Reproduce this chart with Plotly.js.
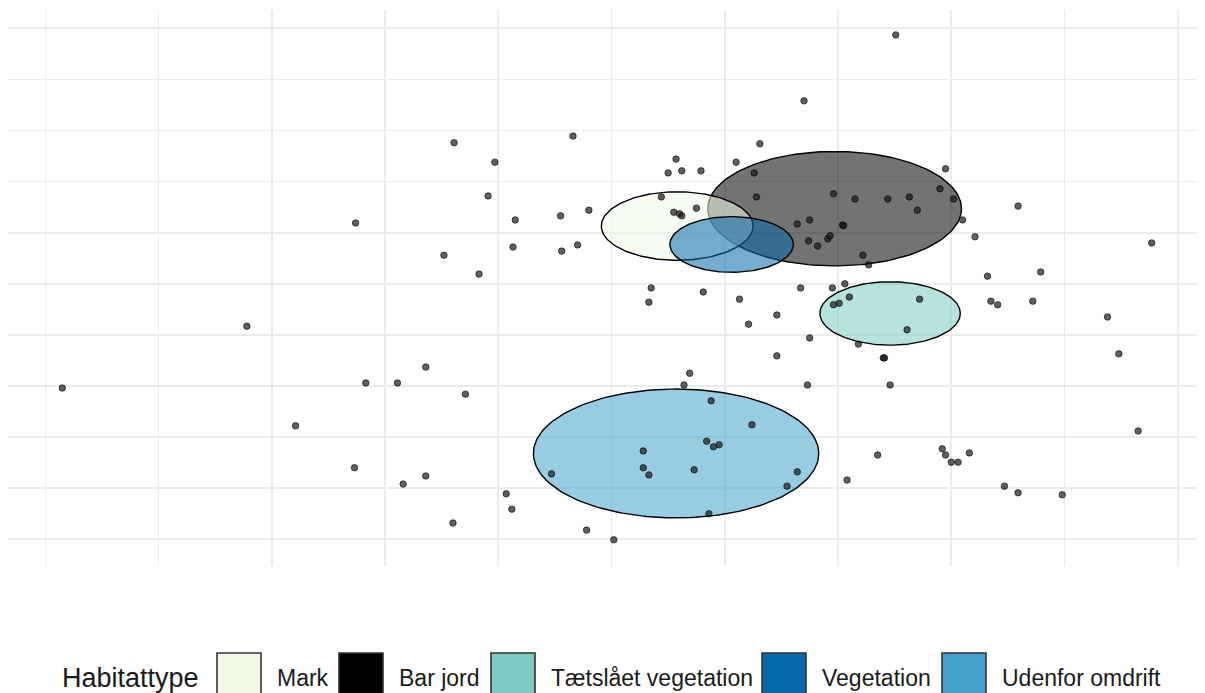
<!DOCTYPE html>
<html>
<head>
<meta charset="utf-8">
<script src="https://cdn.plot.ly/plotly-3.0.1.min.js"></script>
<style>
  html, body { margin: 0; padding: 0; background: #ffffff; }
  #chart { width: 1205px; height: 693px; }
</style>
</head>
<body>
<div id="chart"></div>
<script>
// Habitat groups: name, colour and the centre/radius of each group's ellipse
const habitats = ['Mark', 'Bar jord', 'Tætslået vegetation', 'Vegetation', 'Udenfor omdrift'];
const habitatColors = ['#F0F9E8', '#000000', '#7BCCC4', '#0868AC', '#43A2CA'];
const centerX = [5.58, 6.97, 7.46, 6.06, 5.57];
const centerY = [6.13, 6.47, 4.42, 5.77, 1.68];
const radius = [0.67, 1.12, 0.62, 0.545, 1.26];

// Sites (ordination scores)
const siteX = [
  7.51, 6.70, 4.66, 3.61, 6.31, 3.97, 5.57, 5.50, 5.62, 5.79,
  6.10, 6.26, 7.95, 3.91, 5.44, 6.28, 6.96, 7.15, 7.44, 7.63,
  7.90, 8.02, 2.74, 4.15, 4.55, 4.80, 5.55, 5.60, 5.62, 5.75,
  8.59, 7.70, 8.10, 8.21, 6.64, 6.75, 7.04, 7.05, 6.74, 6.82,
  6.91, 6.93, 9.77, 4.13, 4.56, 4.70, 3.52, 7.22, 7.27, 3.83,
  8.32, 8.79, 5.35, 5.81, 5.33, 6.67, 6.95, 7.06, 6.13, 7.10,
  6.96, 7.01, 7.72, 8.35, 8.41, 8.72, 9.38, 1.78, 6.46, 6.21,
  6.75, 7.61, 7.18, 6.46, 7.40, 7.41, 9.48, 0.15, 3.36, 2.83,
  3.11, 3.71, 5.69, 5.64, 6.73, 7.46, 5.88, 6.24, 2.21, 5.84,
  5.90, 5.95, 5.28, 5.28, 5.33, 5.73, 7.35, 7.92, 7.95, 8.00,
  8.06, 8.16, 6.64, 7.08, 6.55, 2.73, 3.36, 3.16, 4.47, 9.65,
  8.47, 8.59, 8.98, 4.07, 4.12, 3.60, 4.78, 5.02, 5.86
];
const siteY = [
  9.87, 8.58, 7.89, 7.76, 7.74, 7.38, 7.44, 7.17, 7.21, 7.21,
  7.38, 7.17, 7.25, 6.72, 6.70, 6.70, 6.76, 6.66, 6.66, 6.70,
  6.86, 6.66, 6.19, 6.25, 6.33, 6.44, 6.40, 6.37, 6.33, 6.48,
  6.52, 6.44, 6.25, 5.92, 6.17, 6.25, 6.15, 6.14, 5.84, 5.74,
  5.88, 5.94, 5.80, 5.72, 5.64, 5.76, 5.56, 5.56, 5.37, 5.19,
  5.15, 5.23, 4.92, 4.84, 4.64, 4.92, 4.92, 5.00, 4.70, 4.74,
  4.59, 4.62, 4.70, 4.66, 4.59, 4.66, 4.35, 4.17, 4.39, 4.21,
  3.94, 4.10, 3.82, 3.59, 3.55, 3.55, 3.63, 2.96, 3.37, 3.06,
  3.06, 2.84, 3.25, 3.02, 3.02, 3.02, 2.71, 2.24, 2.22, 1.92,
  1.81, 1.85, 1.73, 1.40, 1.26, 1.36, 1.65, 1.77, 1.65, 1.51,
  1.51, 1.69, 1.32, 1.16, 1.04, 1.40, 1.24, 1.08, 1.28, 2.12,
  1.04, 0.91, 0.87, 0.89, 0.59, 0.32, 0.18, -0.01, 0.50
];

// Ellipses are layered so that Mark sits over Bar jord and Vegetation on top
const drawOrder = [1, 0, 2, 4, 3];
const fillAlpha = 0.55;

function hexToRgba(hex, a) {
  const n = parseInt(hex.slice(1), 16);
  return 'rgba(' + ((n >> 16) & 255) + ',' + ((n >> 8) & 255) + ',' + (n & 255) + ',' + a + ')';
}

function ellipsePath(cx, cy, r, n) {
  const xs = [], ys = [];
  for (let i = 0; i <= n; i++) {
    const t = 2 * Math.PI * i / n;
    xs.push(cx + r * Math.cos(t));
    ys.push(cy + r * Math.sin(t));
  }
  return { xs, ys };
}

const traces = [];
drawOrder.forEach(function (k) {
  const e = ellipsePath(centerX[k], centerY[k], radius[k], 180);
  traces.push({
    type: 'scatter', mode: 'lines', name: habitats[k],
    x: e.xs, y: e.ys, fill: 'toself',
    fillcolor: hexToRgba(habitatColors[k], fillAlpha),
    line: { color: '#000000', width: 1.4 },
    hoverinfo: 'skip', showlegend: false
  });
});

traces.push({
  type: 'scatter', mode: 'markers', name: 'Sites',
  x: siteX, y: siteY,
  marker: { size: 6.5, color: 'rgba(20,20,20,0.68)', line: { color: 'rgba(0,0,0,0.75)', width: 0.8 } },
  hoverinfo: 'skip', showlegend: false
});

// Plot area geometry (pixels) used to place the legend row underneath
const W = 1205, H = 693;
const M = { l: 8, r: 8, t: 10, b: 127 };
const plotW = W - M.l - M.r, plotH = H - M.t - M.b;
const px2x = function (px) { return (px - M.l) / plotW; };
const py2y = function (py) { return (H - M.b - py) / plotH; };

const legendFont = "'Liberation Sans', Arial, sans-serif";
const keyLeft = [217, 339, 491, 762, 942];
const keyW = 44, keyTop = 653, keyBottom = 705, labelGap = 14, legendMid = 678;

const shapes = [];
const annotations = [{
  xref: 'paper', yref: 'paper', x: px2x(60), y: py2y(legendMid),
  xanchor: 'left', yanchor: 'middle', showarrow: false,
  text: 'Habitattype', font: { family: legendFont, size: 27, color: '#1a1a1a' }
}];
habitats.forEach(function (h, i) {
  shapes.push({
    type: 'rect', xref: 'paper', yref: 'paper',
    x0: px2x(keyLeft[i]), x1: px2x(keyLeft[i] + keyW),
    y0: py2y(keyBottom), y1: py2y(keyTop),
    fillcolor: habitatColors[i], line: { color: '#333333', width: 1.6 }
  });
  annotations.push({
    xref: 'paper', yref: 'paper', x: px2x(keyLeft[i] + keyW + labelGap), y: py2y(legendMid),
    xanchor: 'left', yanchor: 'middle', showarrow: false,
    text: h, font: { family: legendFont, size: 23, color: '#1a1a1a' }
  });
});

const axisCommon = {
  showgrid: true, gridcolor: '#EBEBEB', gridwidth: 1.6,
  zeroline: false, showline: false, showticklabels: false, ticks: '',
  tick0: 0, dtick: 1, fixedrange: true
};

const layout = {
  width: W, height: H, margin: M,
  paper_bgcolor: '#ffffff', plot_bgcolor: '#ffffff',
  showlegend: false,
  xaxis: Object.assign({ range: [-0.3294, 10.170] }, axisCommon),
  yaxis: Object.assign({ range: [-0.5225, 10.358] }, axisCommon),
  shapes: shapes,
  annotations: annotations
};

Plotly.newPlot('chart', traces, layout, { displayModeBar: false, staticPlot: true });
</script>
</body>
</html>
